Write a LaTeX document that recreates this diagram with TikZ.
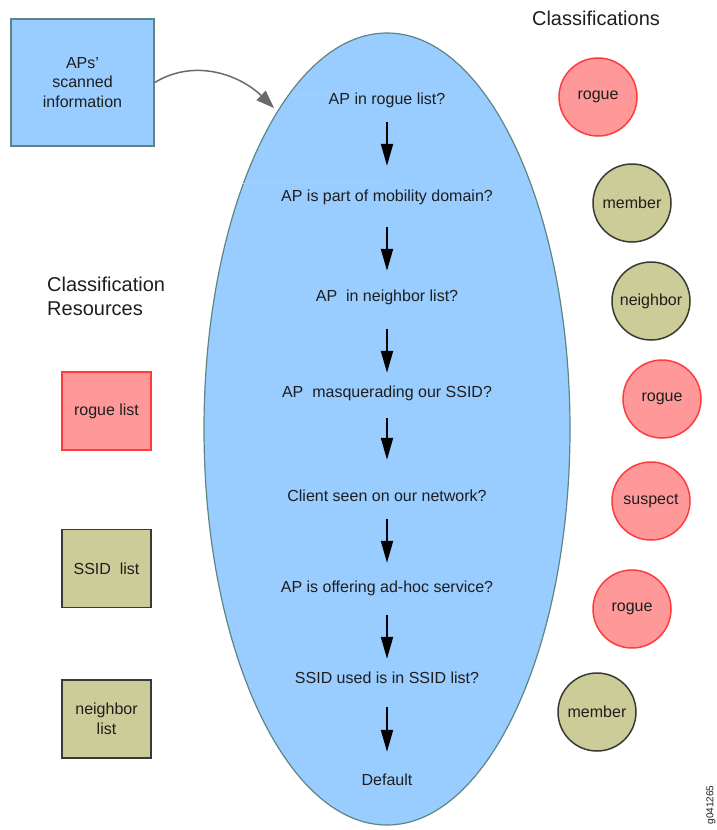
\documentclass[tikz,border=0pt]{standalone}
\usepackage{fontspec}
\setmainfont{Liberation Sans}
\usetikzlibrary{arrows.meta,shapes.geometric}
\definecolor{skyfill}{HTML}{99CCFF}
\definecolor{skyline}{HTML}{5E8585}
\definecolor{roguefill}{HTML}{FF9999}
\definecolor{rogueline}{HTML}{FF3B3B}
\definecolor{olivefill}{HTML}{CCCC99}
\definecolor{oliveline}{HTML}{3A3A33}
\definecolor{inktext}{HTML}{1E1E1E}
\definecolor{curvegray}{HTML}{6A6A6A}
\definecolor{faintlilac}{HTML}{D8B8EC}
\begin{document}
\begin{tikzpicture}[x=1pt,y=-1pt,
  every node/.style={text=inktext, font=\fontsize{16}{19.5}\selectfont},
  question/.style={inner sep=0pt, text height=11pt, text depth=3pt},
  stepflow/.style={line width=2pt, -{Triangle[length=22pt,width=12pt]}},
  verdict/.style={circle, minimum size=78pt, inner sep=0pt, line width=1.5pt},
  redclass/.style={verdict, fill=roguefill, draw=rogueline},
  oliveclass/.style={verdict, fill=olivefill, draw=oliveline},
  resource/.style={minimum width=89pt, minimum height=78pt, inner sep=0pt,
                   line width=1.5pt, align=center},
  heading/.style={font=\fontsize{20}{24}\selectfont, inner sep=0pt}]
\useasboundingbox (0,0) rectangle (717,830);

% decision flow
\node[ellipse, draw=skyline, fill=skyfill, line width=1.2pt,
      minimum width=366pt, minimum height=792pt, inner sep=0pt] (flow) at (387,429) {};
\draw[faintlilac, line width=1pt] (290,95) -- (330,95);
\draw[faintlilac, line width=1pt] (243,183) -- (385,183);

\node[question] (q1) at (387,100) {AP in rogue list?};
\node[question] (q2) at (387,197) {AP is part of mobility domain?};
\node[question] (q3) at (387,297) {AP\ \ in neighbor list?};
\node[question] (q4) at (387,393) {AP\ \ masquerading our SSID?};
\node[question] (q5) at (387,497) {Client seen on our network?};
\node[question] (q6) at (387,588) {AP is offering ad-hoc service?};
\node[question] (q7) at (387,679) {SSID used is in SSID list?};
\node[question] (q8) at (387,781) {Default};

\foreach \a/\b/\s/\e in {q1/q2/15/24, q2/q3/23/19, q3/q4/25/13, q4/q5/18/30,
                         q5/q6/15/18, q6/q7/20/13, q7/q8/21/22}
  \draw[stepflow, shorten <=\s pt, shorten >=\e pt] (\a.south) -- (\b.north);

% scanned input
\node[draw=skyline, fill=skyfill, line width=1.5pt, minimum width=143pt,
      minimum height=127pt, inner sep=0pt, align=center] (scan) at (82.5,82.5)
      {APs'\\scanned\\information};
\coordinate (entry) at (274,108);
\draw[curvegray, line width=1.5pt, -{Triangle[length=18pt,width=13pt]}]
  (scan.east) .. controls (195,58) and (240,75) .. (entry);

% classifications
\node[heading] (classhead) at (596,18) {Classifications};
\node[redclass]   (c1) at (598,97)  {rogue};
\node[oliveclass] (c2) at (632,203) {member};
\node[oliveclass] (c3) at (651,301) {neighbor};
\node[redclass]   (c4) at (662,399) {rogue};
\node[redclass]   (c5) at (651,501) {suspect};
\node[redclass]   (c6) at (632,609) {rogue};
\node[oliveclass] (c7) at (597,712) {member};

% classification resources
\node[heading, anchor=west, align=left] (reshead) at (47,296)
      {Classification\\Resources};
\node[resource, fill=roguefill, draw=rogueline] (r1) at (106.5,411) {rogue list};
\node[resource, fill=olivefill, draw=oliveline] (r2) at (106.5,568.5) {SSID\ \ list};
\node[resource, fill=olivefill, draw=oliveline] (r3) at (106.5,719) {neighbor\\list};

\node[rotate=90, font=\fontsize{10}{12}\selectfont, inner sep=0pt] (figid) at (711,805) {g041265};
\end{tikzpicture}
\end{document}
